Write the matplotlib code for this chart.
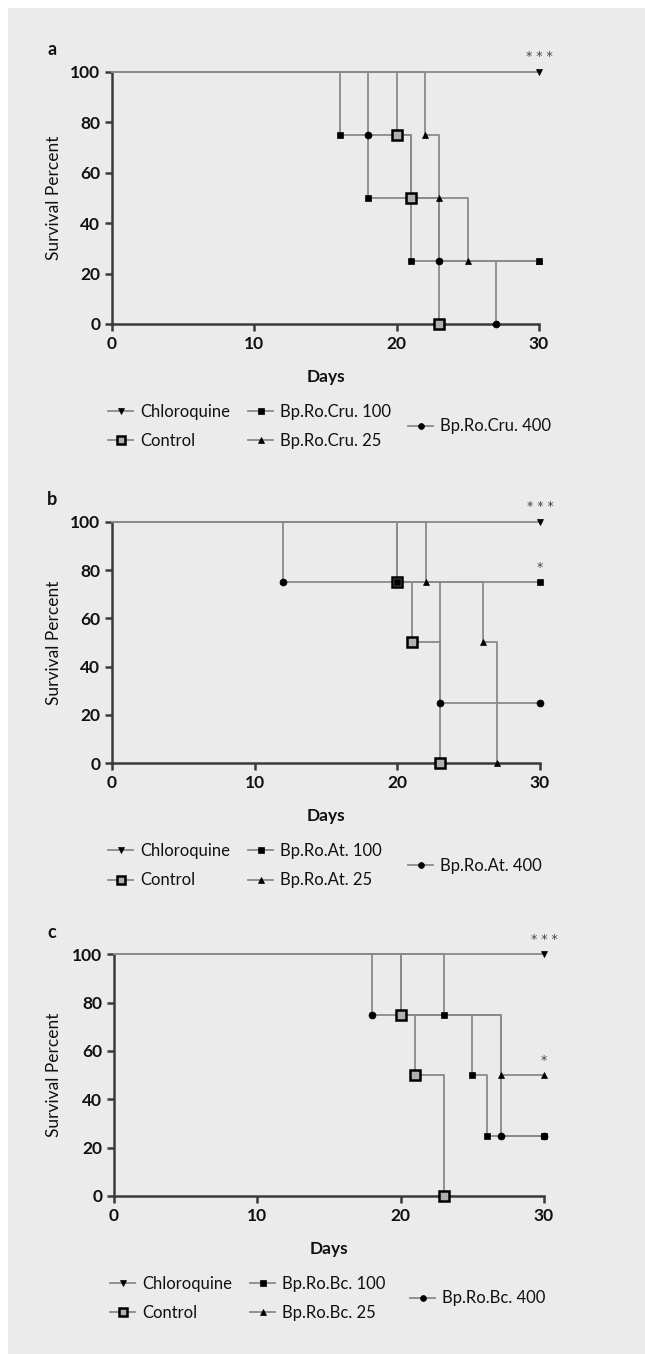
import matplotlib
matplotlib.use("Agg")
import matplotlib.pyplot as plt
from matplotlib.patches import Rectangle
from matplotlib.lines import Line2D
from matplotlib.legend import Legend

plt.rcParams['font.family'] = ['Lato', 'DejaVu Sans']

# ---- data (day of event, survival % after the event); first point is day 0 ----
groups = ['Chloroquine', 'Control', '100', '25', '400']

a_names = ['Chloroquine', 'Control', 'Bp.Ro.Cru. 100', 'Bp.Ro.Cru. 25', 'Bp.Ro.Cru. 400']
a_days = [[0, 30], [0, 20, 21, 23], [0, 16, 18, 21, 30], [0, 22, 23, 25, 30], [0, 18, 21, 23, 27]]
a_pct = [[100, 100], [100, 75, 50, 0], [100, 75, 50, 25, 25], [100, 75, 50, 25, 25], [100, 75, 50, 25, 0]]
a_sig = ['***', '', '', '', '']

b_names = ['Chloroquine', 'Control', 'Bp.Ro.At. 100', 'Bp.Ro.At. 25', 'Bp.Ro.At. 400']
b_days = [[0, 30], [0, 20, 21, 23], [0, 20, 30], [0, 22, 26, 27], [0, 12, 23, 30]]
b_pct = [[100, 100], [100, 75, 50, 0], [100, 75, 75], [100, 75, 50, 0], [100, 75, 25, 25]]
b_sig = ['***', '', '*', '', '']

c_names = ['Chloroquine', 'Control', 'Bp.Ro.Bc. 100', 'Bp.Ro.Bc. 25', 'Bp.Ro.Bc. 400']
c_days = [[0, 30], [0, 20, 21, 23], [0, 23, 25, 26, 30], [0, 20, 27, 30], [0, 18, 27, 30]]
c_pct = [[100, 100], [100, 75, 50, 0], [100, 75, 50, 25, 25], [100, 75, 50, 50], [100, 75, 25, 25]]
c_sig = ['***', '', '', '*', '']

x_ticks = [0, 10, 20, 30]
y_ticks = [0, 20, 40, 60, 80, 100]

# ---- styles ----
BG = '#ebebeb'
LINE = '#8a8a8a'
AXC = '#3a3a3a'
TXT = '#111111'
styles = {
    'Chloroquine': dict(marker='v', ms=5, mfc='black', mec='black', mew=0.5),
    'Control': dict(marker='s', ms=7.5, mfc='#b0b0b0', mec='black', mew=1.8),
    '100': dict(marker='s', ms=5, mfc='black', mec='black', mew=0.5),
    '25': dict(marker='^', ms=4.5, mfc='black', mec='black', mew=0.5),
    '400': dict(marker='o', ms=5, mfc='black', mec='black', mew=0.5),
}
draw_order = [4, 3, 1, 2, 0]

W, H = 645, 1354
fig = plt.figure(figsize=(W / 100, H / 100), dpi=100, facecolor='white')
fig.patches.append(Rectangle((8 / W, 0), 1, 1 - 8 / H, transform=fig.transFigure,
                             facecolor=BG, edgecolor='none', zorder=-10))

# axes boxes in pixels: left, right, top(100), bottom(0)
panels = [
    ('a', a_names, a_days, a_pct, a_sig, (112, 539, 71.7, 324)),
    ('b', b_names, b_days, b_pct, b_sig, (112, 540, 521.7, 763.3)),
    ('c', c_names, c_days, c_pct, c_sig, (114, 544, 954.3, 1196)),
]

for letter, names, days, pct, sig, (l, r, t, bt) in panels:
    ax = fig.add_axes([l / W, 1 - bt / H, (r - l) / W, (bt - t) / H])
    ax.set_facecolor('none')
    for i in draw_order:
        st = styles[groups[i]]
        ax.step(days[i], pct[i], where='post', color=LINE, lw=1.3, zorder=2,
                clip_on=False, solid_joinstyle='round')
        ax.plot(days[i][1:], pct[i][1:], ls='none', zorder=3, clip_on=False, **st)
        if sig[i]:
            ax.annotate(sig[i].replace('*', '* ').strip(), (days[i][-1], pct[i][-1]),
                        xytext=(0, 6), textcoords='offset points', ha='center',
                        va='bottom', fontsize=9, color='#444444', family='DejaVu Sans')
    ax.set_xlim(0, 30)
    ax.set_ylim(0, 100)
    ax.set_xticks(x_ticks)
    ax.set_yticks(y_ticks)
    for s in ['top', 'right']:
        ax.spines[s].set_visible(False)
    for s in ['left', 'bottom']:
        ax.spines[s].set_color(AXC)
        ax.spines[s].set_linewidth(1.8)
        ax.spines[s].set_zorder(1)
    ax.tick_params(direction='out', length=5, width=1.8, color=AXC,
                   labelsize=12.5, labelcolor=TXT, pad=3.5)
    for lab in ax.get_xticklabels() + ax.get_yticklabels():
        lab.set_fontweight('bold')
    ax.set_xlabel('Days', fontsize=12.5, fontweight='bold', color=TXT)
    ax.xaxis.set_label_coords(0.5, -45 / (bt - t))
    ax.set_ylabel('Survival Percent', fontsize=12.5, color=TXT)
    ax.yaxis.set_label_coords(-(l - 54) / (r - l), 0.5)
    ax.yaxis.label.set_va('center')
    fig.text(47 / W, 1 - (t - 22) / H, letter, fontsize=13, fontweight='bold',
             ha='left', va='center', color=TXT)

    # legend in three columns
    cols = [[0, 1], [2, 3], [4]]
    col_x = [l - 4, l + 136, l + 296]
    cy = bt + 88 + 14.5
    for cx, idx in zip(col_x, cols):
        handles = [Line2D([], [], color=LINE, lw=1.3, **{**styles[groups[i]],
                          'ms': styles[groups[i]]['ms'] * 0.85}) for i in idx]
        leg = Legend(ax, handles, [names[i] for i in idx], loc='center left',
                     bbox_to_anchor=(cx / W, 1 - cy / H), bbox_transform=fig.transFigure,
                     frameon=False, fontsize=12, handlelength=1.5, handletextpad=0.42,
                     labelspacing=0.8, borderpad=0, borderaxespad=0)
        for txt in leg.get_texts():
            txt.set_color(TXT)
        ax.add_artist(leg)

fig.savefig('out.png', dpi=100, facecolor=fig.get_facecolor())
